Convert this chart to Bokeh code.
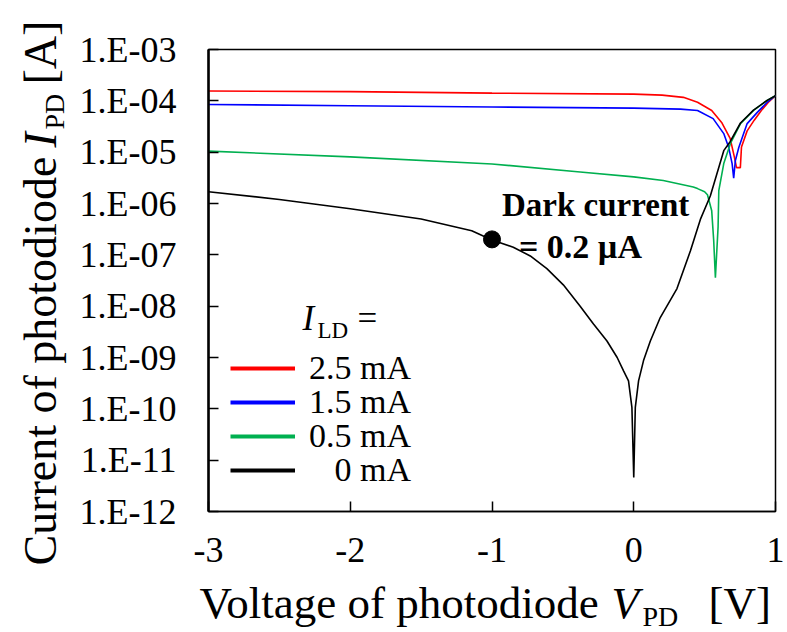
from bokeh.plotting import figure
from bokeh.layouts import row, column
from bokeh.models import Range1d, FixedTicker, Label, Legend, LegendItem
from bokeh.embed import file_html
from bokeh.resources import INLINE

# ---------------- data ----------------
v_red = [-3.0, -2.0, -1.0, 0.0, 0.2, 0.35, 0.45, 0.55, 0.62, 0.68, 0.71, 0.725,
         0.752, 0.76, 0.80, 0.85, 0.90, 0.95, 1.0]
i_red = [1.55e-4, 1.51e-4, 1.41e-4, 1.35e-4, 1.29e-4, 1.17e-4, 9.4e-5, 6.5e-5, 3.8e-5,
         1.86e-5, 8.0e-6, 5.0e-6, 5.0e-6, 1.26e-5, 2.6e-5, 4.2e-5, 6.5e-5, 9.4e-5, 1.26e-4]

v_blue = [-3.0, -2.0, -1.0, 0.0, 0.33, 0.45, 0.56, 0.635, 0.67, 0.694, 0.705, 0.717,
          0.741, 0.80, 0.87, 0.94, 1.0]
i_blue = [8.5e-5, 8.0e-5, 7.6e-5, 7.2e-5, 6.9e-5, 6.5e-5, 4.5e-5, 2.3e-5, 1.23e-5, 6.0e-6,
          3.1e-6, 6.9e-6, 1.23e-5, 3.6e-5, 5.9e-5, 9.3e-5, 1.26e-4]

v_green = [-3.0, -2.0, -1.0, -0.378, 0.0, 0.208, 0.42, 0.45, 0.50, 0.52, 0.55, 0.564,
           0.576, 0.595, 0.60, 0.635, 0.682, 0.753, 0.845, 0.941, 1.0]
i_green = [1.05e-5, 8.1e-6, 5.9e-6, 4.1e-6, 3.3e-6, 2.8e-6, 2.1e-6, 1.95e-6, 1.7e-6,
           1.48e-6, 7.2e-7, 1.9e-7, 3.6e-8, 3.5e-7, 1.78e-6, 6.0e-6, 1.48e-5, 3.6e-5,
           6.5e-5, 1.02e-4, 1.26e-4]

v_black = [-3.0, -2.5, -2.0, -1.5, -1.143, -1.0, -0.85, -0.73, -0.613, -0.497, -0.378,
           -0.284, -0.189, -0.117, -0.072, -0.037, -0.013, 0.0, 0.011, 0.034, 0.069,
           0.117, 0.187, 0.305, 0.40, 0.47, 0.54, 0.635, 0.68, 0.753, 0.845, 0.941, 1.0]
i_black = [1.7e-6, 1.2e-6, 7.9e-7, 5.0e-7, 2.95e-7, 1.95e-7, 1.41e-7, 9.5e-8, 5.4e-8,
           2.6e-8, 1.0e-8, 4.5e-9, 2.1e-9, 1.0e-9, 5.5e-10, 3.5e-10, 1.07e-10, 4.6e-12,
           1.07e-10, 3.5e-10, 8.7e-10, 2.1e-9, 6.0e-9, 2.2e-8, 1.2e-7, 4.9e-7, 1.4e-6,
           1.07e-5, 1.6e-5, 3.7e-5, 6.6e-5, 1.02e-4, 1.26e-4]

series_labels = ["2.5 mA", "1.5 mA", "0.5 mA", "\u2007\u20080 mA"]
series_colors = ["#ff0000", "#0000ff", "#00b050", "#000000"]

dark_v = [-1.0]
dark_i = [2e-7]

x_ticks = [-3, -2, -1, 0, 1]
x_tick_labels = ["-3", "-2", "-1", "0", "1"]
y_ticks = [1e-12, 1e-11, 1e-10, 1e-9, 1e-8, 1e-7, 1e-6, 1e-5, 1e-4, 1e-3]
y_tick_labels = ["1.E-12", "1.E-11", "1.E-10", "1.E-09", "1.E-08", "1.E-07",
                 "1.E-06", "1.E-05", "1.E-04", "1.E-03"]

FONT = "Liberation Serif"
TOTAL_W, TOTAL_H = 787, 632
LEFT_W = 70          # strip holding the y-axis title
BOTTOM_H = 55        # strip holding the x-axis title
MAIN_W, MAIN_H = TOTAL_W - LEFT_W, TOTAL_H - BOTTOM_H

p = figure(width=MAIN_W, height=MAIN_H, y_axis_type="log", title=None,
           x_range=Range1d(x_ticks[0], x_ticks[-1]), y_range=Range1d(y_ticks[0], y_ticks[-1]),
           output_backend="svg", toolbar_location=None,
           min_border_left=138, min_border_right=12,
           min_border_top=49, min_border_bottom=MAIN_H - 511)

p.xgrid.visible = False
p.ygrid.visible = False
p.outline_line_color = "black"
p.outline_line_width = 1.5
p.background_fill_color = "white"
p.border_fill_color = "white"

p.xaxis.ticker = FixedTicker(ticks=x_ticks, minor_ticks=[])
p.xaxis.major_label_overrides = {t: lab for t, lab in zip(x_ticks, x_tick_labels)}
p.yaxis.ticker = FixedTicker(ticks=y_ticks, minor_ticks=[])
p.yaxis.major_label_overrides = {t: lab for t, lab in zip(y_ticks, y_tick_labels)}
for ax in (p.xaxis, p.yaxis):
    ax.major_tick_in = 10
    ax.major_tick_out = 0
    ax.minor_tick_in = 0
    ax.minor_tick_out = 0
    ax.major_tick_line_width = 1.5
    ax.major_tick_line_color = "black"
    ax.axis_line_color = "black"
    ax.major_label_text_font = FONT
    ax.major_label_text_font_size = "36px"
    ax.major_label_text_color = "black"
p.yaxis.axis_line_width = 2.5
p.xaxis.axis_line_width = 1.5
p.yaxis.major_label_standoff = 32
p.xaxis.major_label_standoff = 26

# one single-item legend per row, so the row pitch matches the reference
legend_rows_px = [124, 90, 56, 22]     # bottom of each legend row above the frame bottom
xs = [v_red, v_blue, v_green, v_black]
ys = [i_red, i_blue, i_green, i_black]
for vx, iy, col, lab, ry in zip(xs, ys, series_colors, series_labels, legend_rows_px):
    p.line(vx, iy, line_color=col, line_width=1.6)
    # one-point line: invisible in the plot, gives a thick legend sample
    sample = p.line(vx[:1], iy[:1], line_color=col, line_width=4)
    p.add_layout(Legend(items=[LegendItem(label=lab, renderers=[sample])],
                        location=(22, ry), orientation="vertical",
                        label_text_font=FONT, label_text_font_size="34px",
                        label_text_color="black",
                        glyph_width=65, glyph_height=20, label_standoff=14,
                        spacing=0, padding=0, margin=0,
                        border_line_color=None, background_fill_alpha=0))

p.scatter(dark_v, dark_i, size=17, color="black")

BASE_SHIFT = 0.33   # Bokeh draws "alphabetic" text this many ems low


def txt(fig, text, x, y, dx, dy, size, style="normal", rotated=False):
    sh = BASE_SHIFT * size
    if rotated:
        dx, ang = dx - sh, 1.5707963
    else:
        dy, ang = dy + sh, 0.0
    fig.add_layout(Label(x=x, y=y, x_offset=dx, y_offset=dy, text=text,
                         text_font=FONT, text_font_size=f"{size}px",
                         text_font_style=style, text_color="black", angle=ang,
                         text_align="left", text_baseline="alphabetic"))


X0, Y0 = x_ticks[0], y_ticks[0]   # frame bottom-left corner

# legend title  I_LD =
txt(p, "I", X0, Y0, 94, 181, 35, "italic")
txt(p, "LD", X0, Y0, 109, 173, 23)
txt(p, "=", X0, Y0, 149, 181, 35)

# dark current annotation
txt(p, "Dark current", dark_v[0], dark_i[0], 10, 23, 33, "bold")
txt(p, "= 0.2 \u00b5A", dark_v[0], dark_i[0], 27, -18, 34, "bold")


def strip(w, h):
    f = figure(width=w, height=h, x_range=Range1d(0, w), y_range=Range1d(0, h),
               title=None, output_backend="svg", toolbar_location=None,
               x_axis_location=None, y_axis_location=None,
               min_border=0, outline_line_color=None)
    f.xgrid.visible = False
    f.ygrid.visible = False
    f.background_fill_color = "white"
    f.border_fill_color = "white"
    return f


# y-axis title strip (rotated text, reads upward)
fy = strip(LEFT_W, MAIN_H)
txt(fy, "Current of photodiode", 0, 0, 55, MAIN_H - 565, 46, rotated=True)
txt(fy, "I", 0, 0, 55, MAIN_H - 147, 46, "italic", rotated=True)
txt(fy, "PD", 0, 0, 63, MAIN_H - 129, 28, rotated=True)
txt(fy, "[A]", 0, 0, 55, MAIN_H - 84, 46, rotated=True)

# x-axis title strip
fx = strip(TOTAL_W, BOTTOM_H)
txt(fx, "Voltage of photodiode", 0, 0, 199, TOTAL_H - 617, 45)
txt(fx, "V", 0, 0, 611, TOTAL_H - 617, 45, "italic")
txt(fx, "PD", 0, 0, 642, TOTAL_H - 625, 28)
txt(fx, "[V]", 0, 0, 708, TOTAL_H - 617, 45)

layout = column(row(column(fy), p, spacing=0), fx, spacing=0)
open("out.html", "w").write(file_html(layout, INLINE))
